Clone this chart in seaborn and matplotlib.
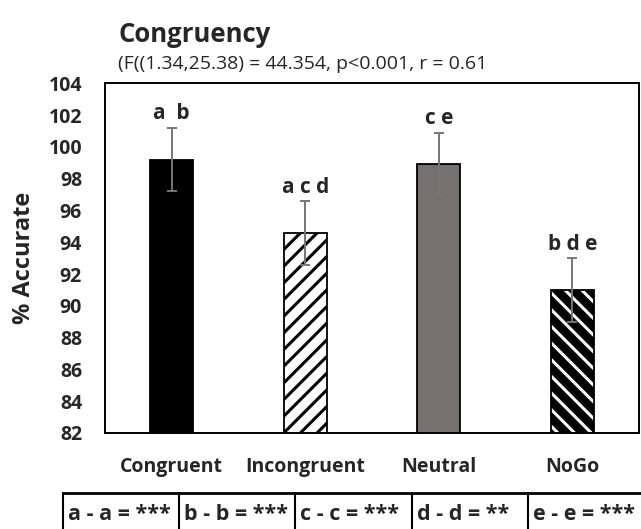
import matplotlib
matplotlib.use("Agg")
import matplotlib.pyplot as plt
from matplotlib.lines import Line2D
import seaborn as sns
import pandas as pd

# Mean accuracy per condition with error (±) and post-hoc group letters
conditions = ["Congruent", "Incongruent", "Neutral", "NoGo"]
accuracy = [99.2, 94.6, 98.9, 91.0]
error = [2.0, 2.0, 2.0, 2.0]
letters = ["a  b", "a c d", "c e", "b d e"]
comparisons = ["a - a = ***", "b - b = ***", "c - c = ***", "d - d = **", "e - e = ***"]
y_ticks = list(range(82, 105, 2))

sns.set_theme(style="white")
plt.rcParams["font.family"] = ["Open Sans", "DejaVu Sans"]

W, H = 641, 529
fig = plt.figure(figsize=(W / 100, H / 100), dpi=100)
ax = fig.add_axes([105 / W, 1 - 433 / H, 534 / W, (433 - 83.3) / H])

df = pd.DataFrame({"condition": conditions, "accuracy": accuracy})
sns.barplot(data=df, x="condition", y="accuracy", ax=ax, width=0.32,
            errorbar=None, color="black", saturation=1, zorder=2)

fills = ["black", "white", "#767171", "white"]
hatches = [None, "//", None, "\\\\"]
hatch_widths = [0, 2.2, 0, 6.3]
for patch, fc, h, hw in zip(ax.patches, fills, hatches, hatch_widths):
    patch.set_facecolor(fc)
    patch.set_edgecolor("black")
    patch.set_linewidth(1.3)
    if h:
        patch.set_hatch(h)
        patch.set_hatch_linewidth(hw)

xs = range(len(conditions))
ax.errorbar(xs, accuracy, yerr=error, fmt="none", ecolor="#767676",
            elinewidth=1.4, capsize=3.5, capthick=1.4, zorder=3)

for x, y, e, lab in zip(xs, accuracy, error, letters):
    ax.annotate(lab, (x, y + e), xytext=(0, 6), textcoords="offset points",
                ha="center", va="baseline", fontsize=15, fontweight="bold")

ax.set_ylim(82, 104)
ax.set_xlim(-0.5, 3.5)
ax.set_yticks(y_ticks)
ax.set_yticklabels([str(t) for t in y_ticks], fontsize=14, fontweight="bold")
ax.set_xticks(list(xs))
ax.set_xticklabels(conditions, fontsize=14, fontweight="bold")
ax.tick_params(axis="y", length=0, pad=16.5)
ax.tick_params(axis="x", length=0, pad=17)
ax.set_xlabel("")
ax.set_ylabel("% Accurate", fontsize=17, fontweight="bold", labelpad=9)
for s in ax.spines.values():
    s.set_visible(True)
    s.set_color("black")
    s.set_linewidth(1.4)

fig.text(118 / W, 1 - 34 / H, "Congruency", fontsize=18.5, fontweight="bold",
         ha="left", va="center")
fig.text(118 / W, 1 - 64 / H, "(F((1.34,25.38) = 44.354, p<0.001, r = 0.61",
         fontsize=14, ha="left", va="center")

# Pairwise comparison strip below the chart
top_y = 1 - 493 / H
fig.add_artist(Line2D([63 / W, 1.0], [top_y, top_y], color="black", lw=2.0,
                      transform=fig.transFigure))
cell_edges = [63, 179, 295, 412, 528]
for xe, txt in zip(cell_edges, comparisons):
    fig.add_artist(Line2D([xe / W, xe / W], [0, top_y], color="black", lw=1.5,
                          transform=fig.transFigure))
    fig.text((xe + 5) / W, 1 - 514 / H, txt, fontsize=15.5, fontweight="bold",
             ha="left", va="center")

fig.savefig("out.png", dpi=100)
